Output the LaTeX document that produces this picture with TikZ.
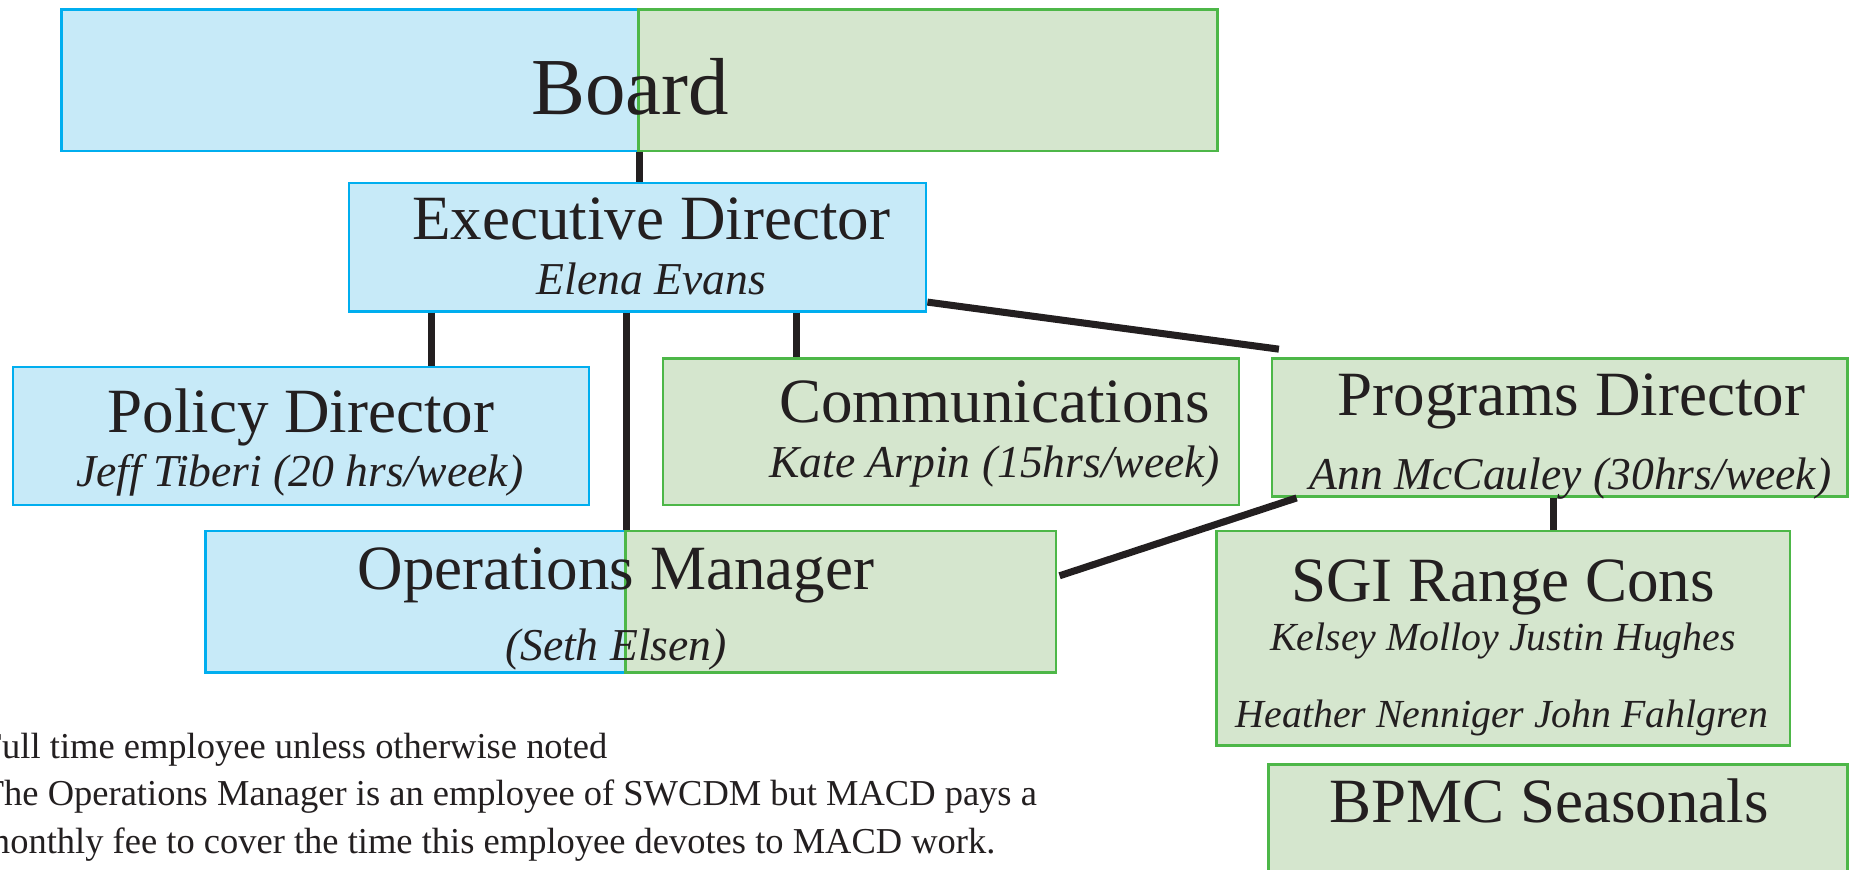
\documentclass[tikz,border=0pt]{standalone}
\usepackage{fontspec}
\setmainfont{Liberation Serif}
\definecolor{boxblue}{RGB}{199,234,248}
\definecolor{lineblue}{RGB}{0,174,239}
\definecolor{boxgreen}{RGB}{213,230,206}
\definecolor{linegreen}{RGB}{77,183,72}
\definecolor{ink}{RGB}{35,31,32}
\tikzset{
  bluebox/.style={shape=rectangle,draw=lineblue,fill=boxblue,line width=0.6pt,inner sep=0pt},
  greenbox/.style={shape=rectangle,draw=linegreen,fill=boxgreen,line width=0.6pt,inner sep=0pt},
  title/.style={anchor=base,inner sep=0pt,text=ink,font=\fontsize{15.2}{18}\selectfont},
  who/.style={anchor=base,inner sep=0pt,text=ink,font=\fontsize{11}{13}\selectfont\itshape},
  note/.style={anchor=base west,inner sep=0pt,text=ink,font=\fontsize{8.8}{10}\selectfont},
  link/.style={draw=ink,line width=1.7pt},
}
\begin{document}
\begin{tikzpicture}
    \path[use as bounding box,clip] (0,0) rectangle (15.68,-7.37);
    % board, half blue and half green
    \node[bluebox,minimum width=4.89cm,minimum height=1.2cm] (BL) at (2.965,-0.68) {};
    \node[greenbox,minimum width=4.91cm,minimum height=1.2cm] (BR) at (7.865,-0.68) {};
    \node[title,font=\fontsize{19.5}{22}\selectfont] (Bt) at (5.34,-0.97) {Board};
    % executive director
    \node[bluebox,minimum width=4.89cm,minimum height=1.09cm] (ED) at (5.405,-2.095) {};
    \node[title] (EDt) at (5.52,-2.03) {Executive Director};
    \node[who] (EDn) at (5.52,-2.50) {Elena Evans};
    % second row
    \node[bluebox,minimum width=4.88cm,minimum height=1.17cm] (PD) at (2.55,-3.695) {};
    \node[title] (PDt) at (2.55,-3.67) {Policy Director};
    \node[who] (PDn) at (2.54,-4.12) {Jeff Tiberi (20 hrs/week)};
    \node[greenbox,minimum width=4.88cm,minimum height=1.24cm] (CM) at (8.06,-3.66) {};
    \node[title] (CMt) at (8.43,-3.58) {Communications};
    \node[who] (CMn) at (8.43,-4.05) {Kate Arpin (15hrs/week)};
    \node[greenbox,minimum width=4.88cm,minimum height=1.17cm] (PG) at (13.22,-3.625) {};
    \node[title] (PGt) at (13.32,-3.52) {Programs Director};
    \node[who] (PGn) at (13.31,-4.15) {Ann McCauley (30hrs/week)};
    % operations manager, half blue and half green
    \node[bluebox,minimum width=3.56cm,minimum height=1.2cm] (OL) at (3.52,-5.10) {};
    \node[greenbox,minimum width=3.65cm,minimum height=1.2cm] (OR) at (7.125,-5.10) {};
    \node[title] (OMt) at (5.22,-5.00) {Operations Manager};
    \node[who] (OMn) at (5.22,-5.60) {(Seth Elsen)};
    % under the programs director
    \node[greenbox,minimum width=4.86cm,minimum height=1.82cm] (SG) at (12.74,-5.41) {};
    \node[title] (SGt) at (12.74,-5.10) {SGI Range Cons};
    \node[who,font=\fontsize{9.6}{11}\selectfont\itshape] (SGa) at (12.74,-5.51) {Kelsey Molloy Justin Hughes};
    \node[who,font=\fontsize{9.6}{11}\selectfont\itshape] (SGb) at (12.73,-6.17) {Heather Nenniger John Fahlgren};
    \node[greenbox,minimum width=4.91cm,minimum height=1.22cm] (BP) at (13.205,-7.09) {};
    \node[title] (BPt) at (13.13,-6.97) {BPMC Seasonals};
    % notes
    \node[note] (N1) at (-0.16,-6.43) {Full time employee unless otherwise noted};
    \node[note] (N2) at (-0.16,-6.83) {The Operations Manager is an employee of SWCDM but MACD pays a};
    \node[note] (N3) at (-0.16,-7.23) {monthly fee to cover the time this employee devotes to MACD work.};
    % where the lines meet the boxes
    \coordinate (PDtop) at ([xshift=3.56cm]PD.north west);
    \coordinate (CMtop) at ([xshift=1.14cm]CM.north west);
    \coordinate (SGtop) at ([xshift=2.87cm]SG.north west);
    % lines
    \path (BL.south east) edge [link] (BL.south east |- ED.north);
    \path (PDtop |- ED.south) edge [link] (PDtop);
    \path (OL.north east |- ED.south) edge [link] (OL.north east);
    \path (CMtop |- ED.south) edge [link] (CMtop);
    \path ([yshift=0.09cm]ED.south east) edge [link] ([xshift=0.07cm,yshift=0.07cm]PG.north west);
    \path ([xshift=0.22cm]PG.south west) edge [link] ([xshift=0.02cm,yshift=0.22cm]OR.east);
    \path (SGtop |- PG.south) edge [link] (SGtop);
\end{tikzpicture}
\end{document}
